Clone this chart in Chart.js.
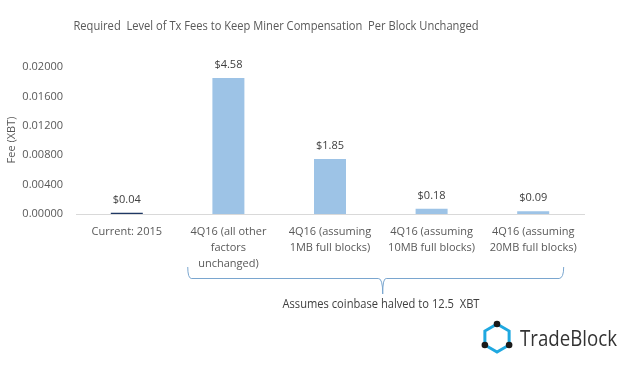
<!DOCTYPE html>
<html><head><meta charset="utf-8">
<script src="https://cdn.jsdelivr.net/npm/chart.js@4/dist/chart.umd.min.js"></script>
<style>html,body{margin:0;padding:0;background:#fff}#wrap{width:628px;height:368px;position:relative}</style>
</head><body><div id="wrap"><canvas id="c" width="628" height="368"></canvas></div>
<script>
const categories = [
  ['Current: 2015'],
  ['4Q16 (all other', 'factors', 'unchanged)'],
  ['4Q16 (assuming', '1MB full blocks)'],
  ['4Q16 (assuming', '10MB full blocks)'],
  ['4Q16 (assuming', '20MB full blocks)']
];
const feeXBT = [0.00016, 0.0185, 0.0075, 0.00073, 0.00037];
const usdLabels = ['$0.04', '$4.58', '$1.85', '$0.18', '$0.09'];
const yTicks = [0, 0.004, 0.008, 0.012, 0.016, 0.02];
const titleText = 'Required  Level of Tx Fees to Keep Miner Compensation  Per Block Unchanged';
const yTitle = 'Fee (XBT)';
const bracketText = 'Assumes coinbase halved to 12.5  XBT';
const brandText = 'TradeBlock';

const FONT = '"Open Sans", "Noto Sans", sans-serif';
const barColors = ['#1F3864', '#9DC3E6', '#9DC3E6', '#9DC3E6', '#9DC3E6'];

// draw text at a given font size, squeezed horizontally to a target width
function fitText(ctx, text, size, target, x, y, align) {
  ctx.font = size + 'px ' + FONT;
  const w = ctx.measureText(text).width;
  const s = Math.min(1, target / w);
  ctx.save();
  ctx.translate(x, y);
  ctx.scale(s, 1);
  ctx.textAlign = align;
  ctx.fillText(text, 0, 0);
  ctx.restore();
}

const extras = {
  id: 'extras',
  afterDraw(chart) {
    const ctx = chart.ctx;
    const xs = chart.scales.x;
    ctx.save();
    ctx.textBaseline = 'middle';
    // title
    ctx.fillStyle = '#595959';
    fitText(ctx, titleText, 13, 405, 276, 26, 'center');
    // value labels
    ctx.textAlign = 'center';
    ctx.fillStyle = '#404040';
    ctx.font = '11px ' + FONT;
    const meta = chart.getDatasetMeta(0);
    meta.data.forEach((bar, i) => {
      ctx.fillText(usdLabels[i], bar.x, bar.y - 13);
    });
    // y title
    ctx.save();
    ctx.translate(12, 140);
    ctx.rotate(-Math.PI / 2);
    ctx.fillStyle = '#595959';
    ctx.fillText(yTitle, 0, 0);
    ctx.restore();
    // bracket
    const step = xs.getPixelForValue(1) - xs.getPixelForValue(0);
    const x1 = xs.getPixelForValue(1) - 0.405 * step;
    const x2 = xs.getPixelForValue(4) + 0.295 * step;
    const xm = (x1 + x2) / 2 + 7;
    const yTop = 267, yLine = 278, yTip = 294;
    ctx.strokeStyle = '#7AA6CF';
    ctx.lineWidth = 1;
    ctx.beginPath();
    ctx.moveTo(x1 + 0.5, yTop);
    ctx.quadraticCurveTo(x1 + 0.5, yLine, x1 + 4, yLine + 0.5);
    ctx.lineTo(xm - 4, yLine + 0.5);
    ctx.quadraticCurveTo(xm + 0.5, yLine, xm + 0.5, yTip);
    ctx.quadraticCurveTo(xm + 0.5, yLine, xm + 4, yLine + 0.5);
    ctx.lineTo(x2 - 4, yLine + 0.5);
    ctx.quadraticCurveTo(x2 + 0.5, yLine, x2 + 0.5, yTop);
    ctx.stroke();
    ctx.fillStyle = '#404040';
    fitText(ctx, bracketText, 12, 197, 381, 305, 'center');
    // logo
    const cx = 497, cy = 338, r = 14;
    ctx.strokeStyle = '#1FA8E0';
    ctx.lineWidth = 3;
    ctx.beginPath();
    for (let k = 0; k < 6; k++) {
      const a = -Math.PI / 2 + k * Math.PI / 3;
      const px = cx + r * Math.cos(a), py = cy + r * Math.sin(a);
      if (k === 0) ctx.moveTo(px, py); else ctx.lineTo(px, py);
    }
    ctx.closePath();
    ctx.stroke();
    ctx.fillStyle = '#1a1a1a';
    [-Math.PI / 2, Math.PI / 6, Math.PI * 5 / 6].forEach(a => {
      ctx.beginPath();
      ctx.arc(cx + r * Math.cos(a), cy + r * Math.sin(a), 3.3, 0, Math.PI * 2);
      ctx.fill();
    });
    ctx.fillStyle = '#333333';
    fitText(ctx, brandText, 21, 97, 520, 340, 'left');
    ctx.restore();
  }
};

new Chart(document.getElementById('c'), {
  type: 'bar',
  data: {
    labels: categories,
    datasets: [{ data: feeXBT, backgroundColor: barColors, barPercentage: 0.315, categoryPercentage: 1 }]
  },
  options: {
    responsive: false,
    animation: false,
    layout: { padding: { top: 67, left: 0, right: 44, bottom: 0 } },
    plugins: { legend: { display: false }, tooltip: { enabled: false }, title: { display: false } },
    scales: {
      x: {
        grid: { display: false, drawTicks: false },
        border: { display: true, color: '#D9D9D9', width: 1 },
        ticks: { color: '#595959', font: { size: 11, family: FONT, lineHeight: 1.45 }, padding: 10, maxRotation: 0, autoSkip: false },
        afterFit(s) { s.height = 154; }
      },
      y: {
        min: 0, max: 0.02,
        afterBuildTicks(s) { s.ticks = yTicks.map(v => ({ value: v })); },
        grid: { display: false, drawTicks: false },
        border: { display: false },
        ticks: { color: '#595959', font: { size: 11, family: FONT }, padding: 13, callback: v => Number(v).toFixed(5) },
        afterFit(s) { s.width = 76; }
      }
    }
  },
  plugins: [extras]
});
</script></body></html>
